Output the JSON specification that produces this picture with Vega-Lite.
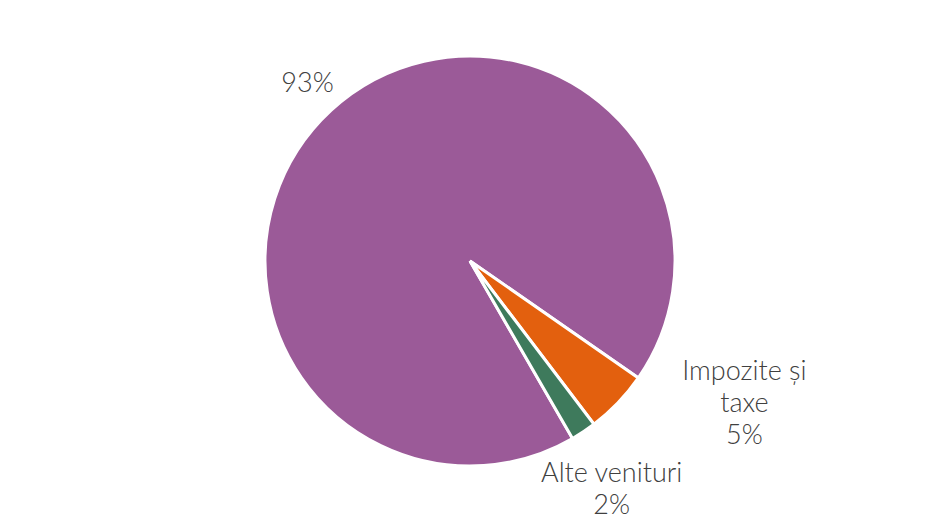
{
  "$schema": "https://vega.github.io/schema/vega-lite/v6.json",
  "width": 940,
  "height": 522,
  "autosize": {"type": "fit", "contains": "padding"},
  "padding": 0,
  "background": "white",
  "view": {"stroke": null},
  "data": {
    "values": [
      {"ordine": 1, "categorie": "Transferuri și subvenții", "procent": 93, "eticheta": ["93%"]},
      {"ordine": 2, "categorie": "Impozite și taxe", "procent": 5, "eticheta": ["Impozite și", "taxe", "5%"]},
      {"ordine": 3, "categorie": "Alte venituri", "procent": 2, "eticheta": ["Alte venituri", "2%"]}
    ]
  },
  "encoding": {
    "theta": {"field": "procent", "type": "quantitative", "stack": true, "scale": {"range": [2.618, 8.901]}},
    "order": {"field": "ordine", "type": "quantitative"}
  },
  "layer": [
    {
      "mark": {"type": "arc", "outerRadius": 205, "stroke": "white", "strokeWidth": 3},
      "encoding": {
        "color": {
          "field": "categorie",
          "type": "nominal",
          "scale": {
            "domain": ["Transferuri și subvenții", "Impozite și taxe", "Alte venituri"],
            "range": ["#9B5A98", "#E3600E", "#3E7A5C"]
          },
          "legend": null
        }
      }
    },
    {
      "mark": {"type": "text", "radius": 240, "font": "Lato", "fontSize": 27, "fontWeight": 300, "color": "#404040", "align": "center", "baseline": "middle"},
      "encoding": {
        "text": {"condition": {"test": "datum.ordine == 1", "field": "eticheta"}, "value": ""}
      }
    },
    {
      "mark": {"type": "text", "radius": 225, "dx": 112, "dy": -45, "font": "Lato", "fontSize": 27, "fontWeight": 300, "lineHeight": 32, "color": "#404040", "align": "center", "baseline": "middle"},
      "encoding": {
        "text": {"condition": {"test": "datum.ordine == 2", "field": "eticheta"}, "value": ""}
      }
    },
    {
      "mark": {"type": "text", "radius": 256, "font": "Lato", "fontSize": 27, "fontWeight": 300, "lineHeight": 32, "color": "#404040", "align": "center", "baseline": "middle"},
      "encoding": {
        "text": {"condition": {"test": "datum.ordine == 3", "field": "eticheta"}, "value": ""}
      }
    }
  ]
}
